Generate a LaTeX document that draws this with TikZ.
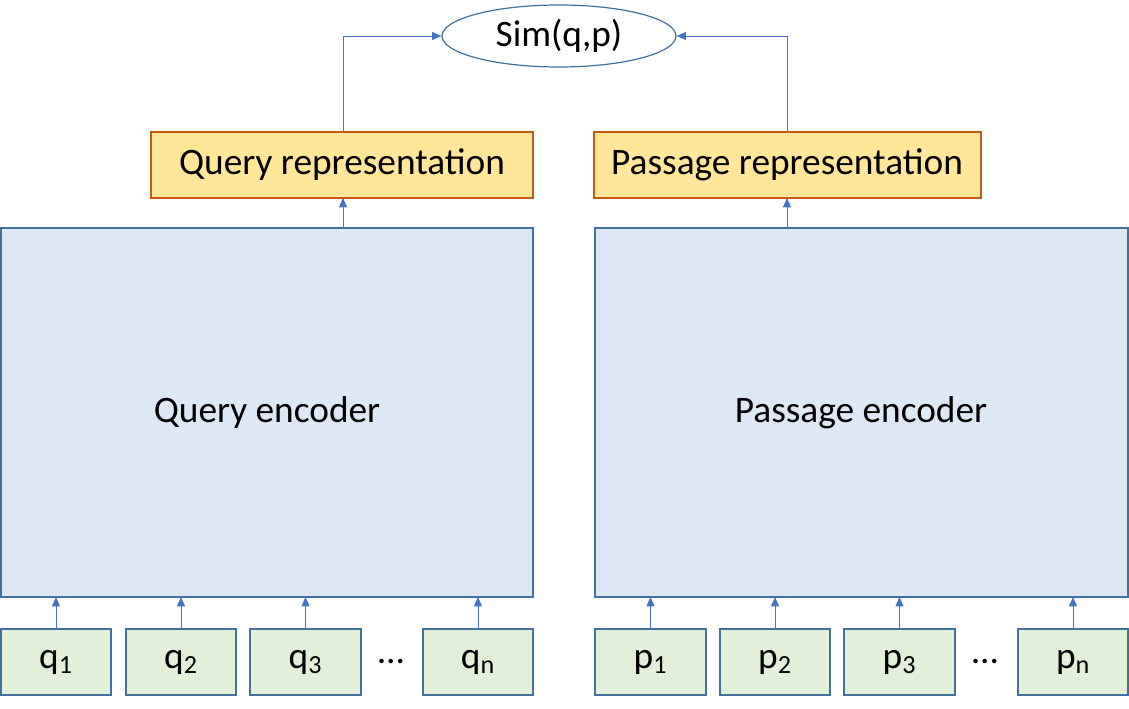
\documentclass[tikz,border=0pt]{standalone}
\usepackage{fontspec}
\setmainfont{Carlito}
\usetikzlibrary{shapes.geometric,arrows.meta}
\definecolor{bord}{HTML}{41719C}
\definecolor{encf}{HTML}{DEE8F5}
\definecolor{tokf}{HTML}{E2F0D9}
\definecolor{repf}{HTML}{FFE699}
\definecolor{repb}{HTML}{C55A11}
\definecolor{arr}{HTML}{4472C4}
\begin{document}
\begin{tikzpicture}[x=0.75pt,y=-0.75pt,
  box/.style={draw=bord,line width=0.9pt,inner sep=0pt},
  enc/.style={box,fill=encf},
  tok/.style={box,fill=tokf},
  rep/.style={draw=repb,line width=0.9pt,fill=repf},
  lab/.style={font=\fontsize{28}{32}\selectfont},
  a/.style={draw=arr,line width=0.6pt,-{Triangle[length=7pt,width=6pt]}}]
\useasboundingbox (0,0) rectangle (1129,709);
\node[draw=bord,line width=0.9pt,fill=white,ellipse,minimum width=234*0.75pt,minimum height=62*0.75pt,inner sep=0pt,lab] (sim) at (559,36) {Sim(q,p)};
\path[rep] (151,132) rectangle (533,198); \node[lab] (qr) at (342,165) {Query representation};
\coordinate (qrt) at (343,132); \coordinate (qrb) at (343,198);
\path[rep] (594,132) rectangle (981,198); \node[lab] (pr) at (787,165) {Passage representation};
\coordinate (prt) at (787,132); \coordinate (prb) at (787,198);
\path[enc] (1,228) rectangle (533,597); \node[lab] (qe) at (267,413) {Query encoder};
\path[enc] (595,228) rectangle (1128,597); \node[lab] (pe) at (861,413) {Passage encoder};
\foreach \n/\xa/\xb/\t in {q1/1/111/q\textsubscript{1},q2/126/236/q\textsubscript{2},q3/250/361/q\textsubscript{3},qn/423/533/q\textsubscript{n},p1/595/706/p\textsubscript{1},p2/720/830/p\textsubscript{2},p3/844/955/p\textsubscript{3},pn/1018/1128/p\textsubscript{n}}{
  \path[tok] (\xa,629) rectangle (\xb,695);
  \node[lab] (\n) at ({(\xa+\xb)/2},662) {\t};
  \coordinate (\n t) at ({(\xa+\xb)/2},629);
  \coordinate (\n e) at ({(\xa+\xb)/2},597);
  \draw[a] (\n t) -- (\n e);
}
\node[lab] (d1) at (391,662) {…};
\node[lab] (d2) at (985,662) {…};
\coordinate (qet) at (343,228); \coordinate (pet) at (787,228);
\draw[a] (qet) -- (qrb);
\draw[a] (pet) -- (prb);
\draw[a] (qrt) |- (sim.west);
\draw[a] (prt) |- (sim.east);
\end{tikzpicture}
\end{document}
